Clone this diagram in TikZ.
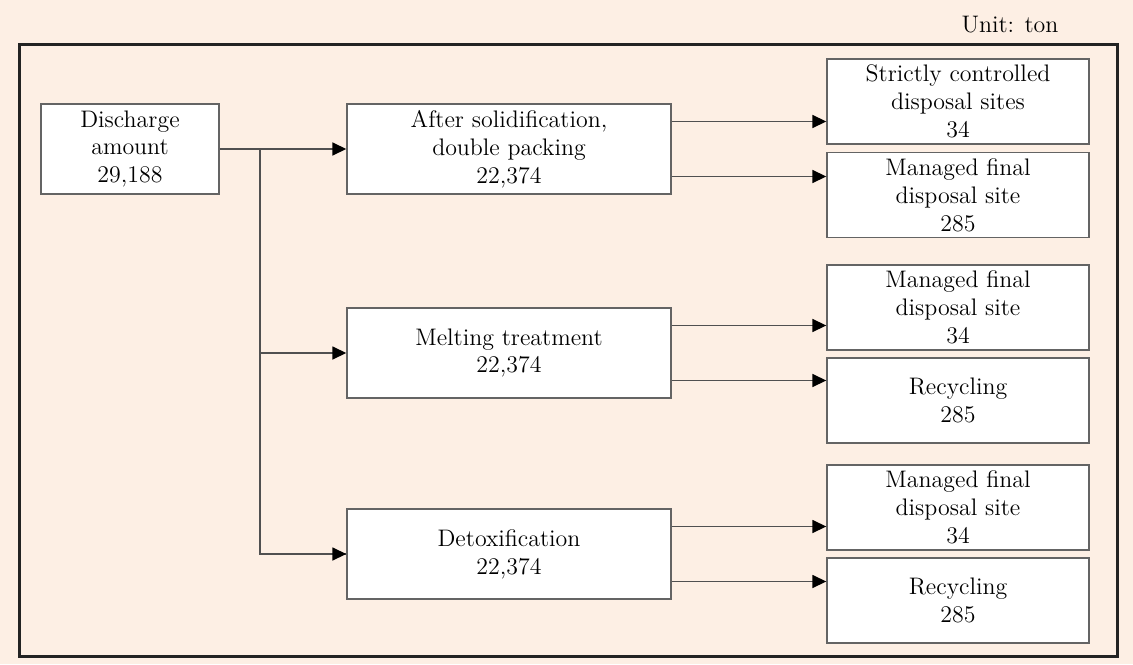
\documentclass[tikz,border=0pt]{standalone}
\usepackage{tikz}
\usetikzlibrary{positioning,arrows.meta}

\begin{document}
\begin{tikzpicture}[x=0.5bp, y=-0.5bp,
  box/.style={draw=boxgray, fill=white, line width=0.7pt, align=center,
    inner sep=0pt, font=\fontsize{12}{14}\selectfont},
  leftbox/.style={box, minimum width=89bp, minimum height=45bp},
  midbox/.style={box, minimum width=162bp, minimum height=45bp},
  outbox/.style={box, minimum width=131bp, minimum height=42.5bp},
  link/.style={draw=linegray, line width=0.8pt},
  arr/.style={link, -{Triangle[length=7bp, width=6.5bp, black]}}]
  % colors
  \definecolor{bgpeach}{RGB}{253,239,228}
  \definecolor{boxgray}{RGB}{100,100,100}
  \definecolor{linegray}{RGB}{80,80,80}
  \definecolor{framedark}{RGB}{35,35,35}

  % parameters
  \def\off{13.75bp} % offset of the outgoing arrows

  % background and frame
  \fill[bgpeach] (0,0) rectangle (1133,664);
  \useasboundingbox (0,0) rectangle (1133,664);
  \draw[framedark, line width=1.5bp] (19,45) rectangle (1117,656);
  \node[font=\fontsize{12}{14}\selectfont] (unit) at (1010,25) {Unit: ton};

  % boxes
  \node[leftbox] (disc) at (130,149) {Discharge\\amount\\29,188};

  \node[midbox] (solid) at (509,149) {After solidification,\\double packing\\22,374};
  \node[midbox] (melt)  at (509,353) {Melting treatment\\22,374};
  \node[midbox] (detox) at (509,554) {Detoxification\\22,374};

  \node[outbox] (strict) at (958,101.5) {Strictly controlled\\disposal sites\\34};
  \node[outbox] (manA)   at (958,195)   {Managed final\\disposal site\\285};
  \node[outbox] (manB)   at (958,307.5) {Managed final\\disposal site\\34};
  \node[outbox] (recB)   at (958,400.5) {Recycling\\285};
  \node[outbox] (manC)   at (958,507.5) {Managed final\\disposal site\\34};
  \node[outbox] (recC)   at (958,600.5) {Recycling\\285};

  % trunk
  \coordinate (split) at (260,149);
  \draw[arr] (disc.east) -- (solid.west);
  \draw[link] (split) |- (detox.west);
  \draw[arr] (split |- melt.west) -- (melt.west);
  \draw[arr] (split |- detox.west) -- (detox.west);

  % outgoing arrows
  \draw[arr] ([yshift=\off]solid.east) coordinate (s1) -- (s1 -| strict.west);
  \draw[arr] ([yshift=-\off]solid.east) coordinate (s2) -- (s2 -| manA.west);
  \draw[arr] ([yshift=\off]melt.east) coordinate (m1) -- (m1 -| manB.west);
  \draw[arr] ([yshift=-\off]melt.east) coordinate (m2) -- (m2 -| recB.west);
  \draw[arr] ([yshift=\off]detox.east) coordinate (d1) -- (d1 -| manC.west);
  \draw[arr] ([yshift=-\off]detox.east) coordinate (d2) -- (d2 -| recC.west);
\end{tikzpicture}
\end{document}
